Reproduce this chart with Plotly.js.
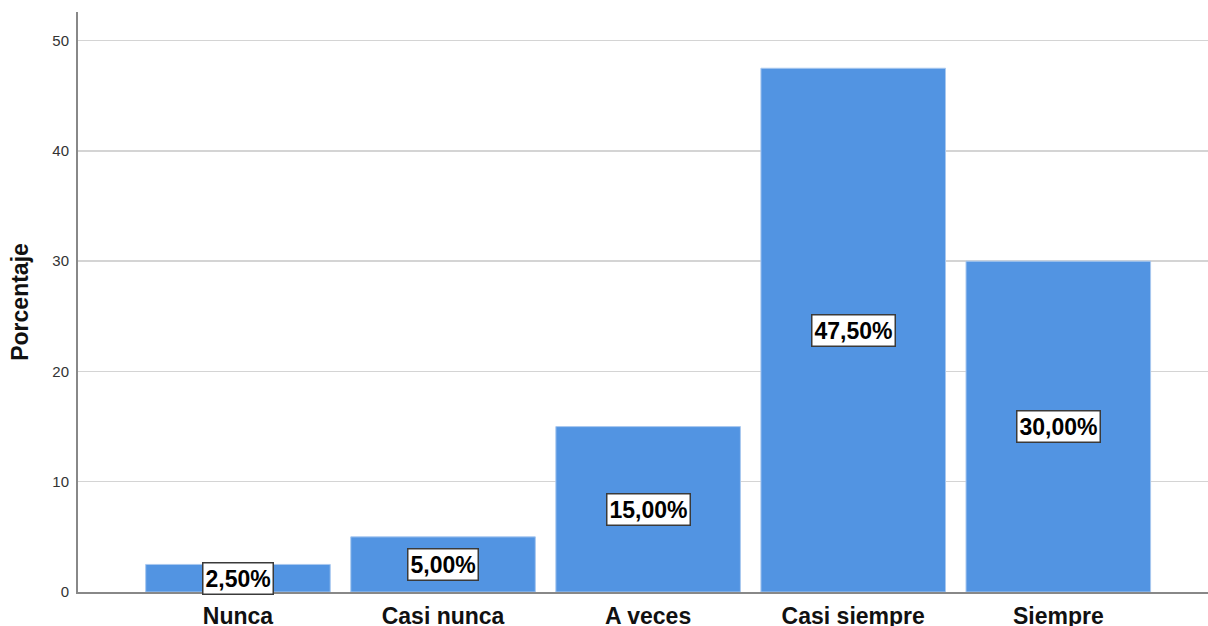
<!DOCTYPE html>
<html>
<head>
<meta charset="utf-8">
<script src="https://cdn.plot.ly/plotly-3.0.1.min.js"></script>
<style>
  html, body { margin: 0; padding: 0; background: #fff; }
  #chart { width: 1208px; height: 626px; }
</style>
</head>
<body>
<div id="chart"></div>
<script>
const categories = ['Nunca', 'Casi nunca', 'A veces', 'Casi siempre', 'Siempre'];
const percentages = [2.5, 5, 15, 47.5, 30];
const valueLabels = ['2,50%', '5,00%', '15,00%', '47,50%', '30,00%'];
const yTicks = [0, 10, 20, 30, 40, 50];

const barTrace = {
  x: categories,
  y: percentages,
  type: 'bar',
  width: 0.9,
  marker: {
    color: '#5294e2',
    line: { color: '#a9c8ef', width: 1 }
  },
  hoverinfo: 'x+y'
};

// boxed labels sit at the middle of each bar
const labelBoxes = categories.map((cat, i) => ({
  x: cat,
  y: percentages[i] / 2,
  xref: 'x',
  yref: 'y',
  text: valueLabels[i],
  showarrow: false,
  font: { family: 'Liberation Sans, Arial, sans-serif', size: 23, color: '#000', weight: 'bold' },
  bgcolor: '#fff',
  bordercolor: '#3a3a3a',
  borderwidth: 1.5,
  borderpad: 2
}));

const layout = {
  width: 1208,
  height: 626,
  margin: { l: 78, r: 0, t: 12, b: 34 },
  paper_bgcolor: '#fff',
  plot_bgcolor: '#fff',
  showlegend: false,
  font: { family: 'Liberation Sans, Arial, sans-serif', color: '#222' },
  xaxis: {
    range: [-0.78, 4.73],
    showgrid: false,
    showline: true,
    linecolor: '#888',
    linewidth: 1.5,
    ticks: '',
    tickfont: { size: 23, color: '#111', weight: 'bold' },
    ticklabelstandoff: 3,
    fixedrange: true
  },
  yaxis: {
    range: [0, 52.6],
    tickvals: yTicks,
    ticks: '',
    showline: true,
    linecolor: '#888',
    linewidth: 2,
    showgrid: true,
    gridcolor: '#d4d4d4',
    gridwidth: 1.5,
    zeroline: false,
    tickfont: { size: 15, color: '#333' },
    ticklabelstandoff: 4,
    title: {
      text: 'Porcentaje',
      font: { size: 23, color: '#111', weight: 'bold' },
      standoff: 17
    },
    fixedrange: true
  },
  annotations: labelBoxes
};

Plotly.newPlot('chart', [barTrace], layout, { displayModeBar: false, staticPlot: true });
</script>
</body>
</html>
